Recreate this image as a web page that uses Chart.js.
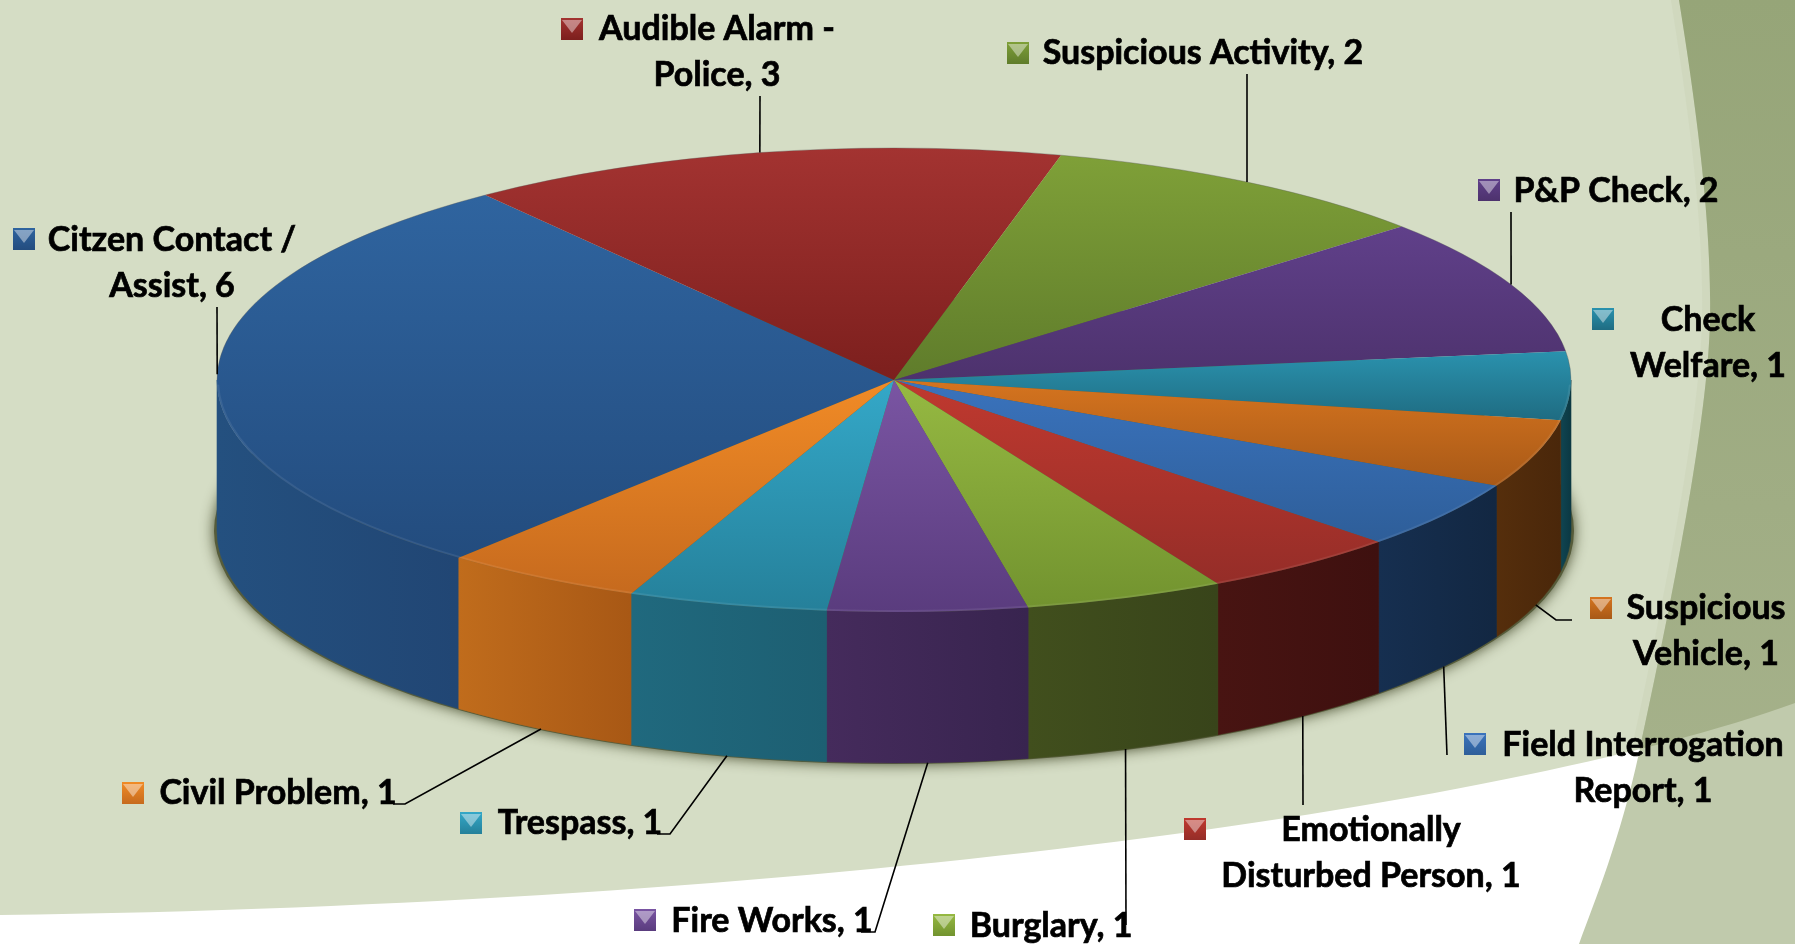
<!DOCTYPE html>
<html>
<head>
<meta charset="utf-8">
<title>Calls for service</title>
<script src="https://cdn.jsdelivr.net/npm/chart.js@4"></script>
<style>
html,body{margin:0;padding:0;background:#fff;overflow:hidden;}
canvas{display:block;}
</style>
</head>
<body>
<canvas id="pie3d" width="1795" height="944"></canvas>
<script>
// clockwise from the Citizen Contact slice, \n is where the label wraps
const categories = [
    "Citzen Contact /\nAssist", "Audible Alarm -\nPolice", "Suspicious Activity", "P&P Check",
    "Check\nWelfare", "Suspicious\nVehicle", "Field Interrogation\nReport", "Emotionally\nDisturbed Person",
    "Burglary", "Fire Works", "Trespass", "Civil Problem"
];
const values = [6, 3, 2, 2, 1, 1, 1, 1, 1, 1, 1, 1];

const topLight = ["#2f649f","#a33331","#7fa038","#60408a","#2a92ae","#d5741f","#3a73bd","#c0392f","#96b942","#7a55a3","#34a8c8","#f18b26"];
const topDark  = ["#234c7e","#7c1f1d","#5f7c2b","#4d326d","#1f6c82","#a85917","#2e5e99","#952d28","#72932f","#5a3c7e","#25809a","#c66a1e"];
const wallLight= ["#24507f","#5c1512","#4c6320","#3a2552","#0f4552","#552e0c","#162f50","#481412","#414f1d","#452b5c","#20697e","#c06c1c"];
const wallDark = ["#214674","#4a100e","#3f5319","#30204a","#0c3842","#4a270a","#122742","#3e100f","#38441a","#38244f","#1d5f72","#a85815"];

// key box left/top, text block centre x, first baseline
const labelKeyX = [13, 561, 1007, 1478, 1592, 1590, 1464, 1184, 933, 634, 460, 122];
const labelKeyY = [228, 18, 42, 179, 308, 597, 733, 818, 914, 909, 812, 782];
const labelMidX = [172, 717, 1203, 1616, 1708, 1706, 1643, 1371, 1051, 772, 580, 278];
const labelBase = [251, 40, 64, 202, 331, 619, 756, 841, 937, 932, 834, 804];

// leader line bends after leaving the rim, null = no leader
const leaders = [
    [[217,307]], [[760,96]], [[1247,74]], [[1511,212]], null,
    [[1556,620],[1572,620]], [[1447,755]], [[1303,805]], [[1126,925]],
    [[875,932],[861,932]], [[670,834],[657,834]], [[405,804],[393,804]]
];

const RX = 677, DEPTH = 151, KEY = 22, LINE_GAP = 46;
const total = values.reduce((a, b) => a + b, 0);

function topGradient(c){
    const chart = c.chart, area = chart.chartArea;
    if(!area) return topLight[c.dataIndex];
    const r = (area.bottom - area.top) / 2, cy = (area.bottom + area.top) / 2;
    let start = 220;
    for(let i = 0; i < c.dataIndex; i++) start += values[i] / total * 360;
    const end = start + values[c.dataIndex] / total * 360;
    // vertical extent of the slice on the circle
    let lo = cy, hi = cy;
    for(let a = start; a <= end; a += 1){
        const y = cy - r * Math.cos(a * Math.PI / 180);
        lo = Math.min(lo, y); hi = Math.max(hi, y);
    }
    const g = chart.ctx.createLinearGradient(0, lo, 0, hi);
    g.addColorStop(0, topLight[c.dataIndex]);
    g.addColorStop(1, topDark[c.dataIndex]);
    return g;
}

function paintBackground(ctx){
    const swoosh = () => {
        ctx.beginPath();
        ctx.moveTo(0, 0);
        ctx.lineTo(1795, 0);
        ctx.lineTo(1795, 703);
        ctx.bezierCurveTo(1500, 810, 800, 905, 0, 915);
        ctx.closePath();
    };
    const edge = () => {
        ctx.beginPath();
        ctx.moveTo(1679, 0);
        ctx.bezierCurveTo(1695, 100, 1712, 220, 1710, 320);
        ctx.bezierCurveTo(1708, 420, 1672, 600, 1639, 753);
        ctx.bezierCurveTo(1620, 840, 1595, 900, 1579, 944);
        ctx.lineTo(1795, 944);
        ctx.lineTo(1795, 0);
        ctx.closePath();
    };
    ctx.fillStyle = "#fff";
    ctx.fillRect(0, 0, 1795, 944);
    ctx.fillStyle = "#d5ddc5";
    swoosh();
    ctx.fill();
    ctx.fillStyle = "#c0caac";
    edge();
    ctx.fill();
    ctx.save();
    swoosh();
    ctx.clip();
    edge();
    ctx.strokeStyle = "rgba(190,200,170,0.22)";
    ctx.lineWidth = 16;
    ctx.stroke();
    const g = ctx.createLinearGradient(0, 0, 0, 760);
    g.addColorStop(0, "#96a578");
    g.addColorStop(1, "#a5b18a");
    ctx.fillStyle = g;
    ctx.fill();
    ctx.restore();
}

function paintWalls(chart){
    const ctx = chart.ctx;
    const arcs = chart.getDatasetMeta(0).data;
    const cx = arcs[0].x, cy = arcs[0].y, ry = arcs[0].outerRadius;

    // soft shadow under the base
    ctx.save();
    ctx.shadowColor = "rgba(60,65,35,0.95)";
    ctx.shadowBlur = 14;
    ctx.fillStyle = "#565c3a";
    ctx.beginPath();
    ctx.ellipse(cx, cy + DEPTH, RX + 3, ry + 1, 0, 0, Math.PI * 2);
    ctx.fill();
    ctx.restore();

    arcs.forEach((arc, i) => {
        for(const shift of [0, Math.PI * 2]){
            let a = arc.startAngle, b = arc.endAngle;
            while(a < 0){ a += Math.PI * 2; b += Math.PI * 2; }
            while(a >= Math.PI * 2){ a -= Math.PI * 2; b -= Math.PI * 2; }
            const from = Math.max(a - shift, 0), to = Math.min(b - shift, Math.PI);
            if(to <= from) continue;
            const x0 = cx + RX * Math.cos(to), x1 = cx + RX * Math.cos(from);
            const g = ctx.createLinearGradient(x0, 0, x1, 0);
            g.addColorStop(0, wallLight[i]);
            g.addColorStop(1, wallDark[i]);
            ctx.fillStyle = g;
            ctx.strokeStyle = g;
            ctx.lineWidth = 0.6;
            ctx.beginPath();
            ctx.ellipse(cx, cy + DEPTH, RX, ry, 0, from, to);
            ctx.ellipse(cx, cy, RX, ry, 0, to, from, true);
            ctx.closePath();
            ctx.fill();
            ctx.stroke();
        }
    });
}

function paintRim(chart){
    const ctx = chart.ctx;
    const arc0 = chart.getDatasetMeta(0).data[0];
    const cx = arc0.x, cy = arc0.y, ry = arc0.outerRadius;
    ctx.save();
    ctx.strokeStyle = "rgba(255,255,255,0.08)";
    ctx.lineWidth = 2;
    ctx.beginPath();
    ctx.ellipse(cx, cy, RX - 1, ry - 1, 0, 0.02, Math.PI - 0.02);
    ctx.stroke();
    ctx.strokeStyle = "rgba(90,90,90,0.35)";
    ctx.lineWidth = 1;
    ctx.beginPath();
    ctx.ellipse(cx, cy, RX, ry, 0, Math.PI, Math.PI * 2);
    ctx.stroke();
    ctx.restore();
}

function paintLabels(chart){
    const ctx = chart.ctx;
    const arcs = chart.getDatasetMeta(0).data;
    const cx = arcs[0].x, cy = arcs[0].y, ry = arcs[0].outerRadius;
    ctx.save();

    ctx.strokeStyle = "#000";
    ctx.lineWidth = 1.6;
    leaders.forEach((bends, i) => {
        if(!bends) return;
        const mid = (arcs[i].startAngle + arcs[i].endAngle) / 2;
        const px = cx + RX * Math.cos(mid);
        let py = cy + ry * Math.sin(mid);
        if(Math.sin(mid) > 0) py += DEPTH;
        ctx.beginPath();
        ctx.moveTo(px, py);
        for(const p of bends) ctx.lineTo(p[0], p[1]);
        ctx.stroke();
    });

    ctx.font = "bold 34px Lato";
    ctx.fillStyle = "#000";
    ctx.strokeStyle = "#000";
    ctx.lineWidth = 0.7;
    ctx.textAlign = "center";
    ctx.textBaseline = "alphabetic";
    categories.forEach((name, i) => {
        const lines = (name + ", " + values[i]).split("\n");
        lines.forEach((line, n) => {
            ctx.fillText(line, labelMidX[i], labelBase[i] + n * LINE_GAP);
            ctx.strokeText(line, labelMidX[i], labelBase[i] + n * LINE_GAP);
        });

        // little glossy legend key
        const x = labelKeyX[i], y = labelKeyY[i];
        const g = ctx.createLinearGradient(0, y, 0, y + KEY);
        g.addColorStop(0, topLight[i]);
        g.addColorStop(1, topDark[i]);
        ctx.fillStyle = g;
        ctx.fillRect(x, y, KEY, KEY);
        ctx.fillStyle = "rgba(255,255,255,0.42)";
        ctx.beginPath();
        ctx.moveTo(x + 1, y + 2);
        ctx.lineTo(x + KEY - 1, y + 2);
        ctx.lineTo(x + KEY / 2, y + KEY * 0.68);
        ctx.closePath();
        ctx.fill();
        ctx.fillStyle = "#000";
    });
    ctx.restore();
}

const pie3d = {
    id: "pie3d",
    beforeDraw(chart){
        paintBackground(chart.ctx);
    },
    beforeDatasetsDraw(chart){
        paintWalls(chart);
        // the library draws a circle, stretch it into the tilted ellipse
        const arc = chart.getDatasetMeta(0).data[0];
        const ctx = chart.ctx;
        ctx.save();
        ctx.translate(arc.x, 0);
        ctx.scale(RX / arc.outerRadius, 1);
        ctx.translate(-arc.x, 0);
    },
    afterDatasetsDraw(chart){
        chart.ctx.restore();
        paintRim(chart);
        paintLabels(chart);
    }
};

new Chart(document.getElementById("pie3d").getContext("2d"), {
    type: "pie",
    data: {
        labels: categories.map(c => c.replace("\n", " ")),
        datasets: [{
            data: values,
            backgroundColor: topGradient,
            borderWidth: 0,
            clip: false
        }]
    },
    options: {
        responsive: false,
        animation: false,
        devicePixelRatio: 1,
        rotation: 220,
        layout: { padding: { top: 148, bottom: 332, left: 662, right: 669 } },
        plugins: { legend: { display: false }, tooltip: { enabled: false } }
    },
    plugins: [pie3d]
});
</script>
</body>
</html>
